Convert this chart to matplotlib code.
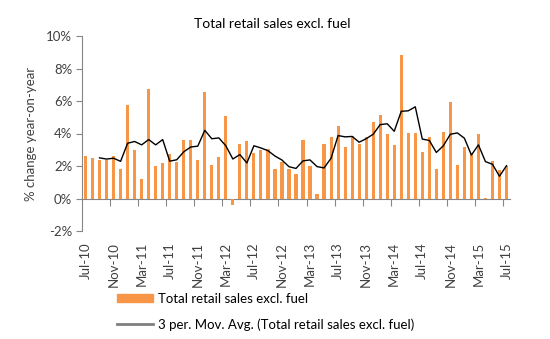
import matplotlib
matplotlib.use("Agg")
import matplotlib.pyplot as plt
from matplotlib.patches import Patch
from matplotlib.lines import Line2D
import numpy as np
import pandas as pd

plt.rcParams['font.family'] = ['Lato', 'DejaVu Sans']

title = "Total retail sales excl. fuel"
ylabel = "% change year-on-year"
bar_label = "Total retail sales excl. fuel"
ma_label = "3 per. Mov. Avg. (Total retail sales excl. fuel)"

# monthly values Jul-10 .. Jul-15 (% yoy)
values = [2.62, 2.48, 2.40, 2.40, 2.64, 1.82, 5.74, 2.97, 1.19, 6.72, 1.99, 2.17,
          2.73, 2.25, 3.63, 3.63, 2.40, 6.56, 2.07, 2.56, 5.10, -0.37, 3.38, 3.55,
          2.81, 2.97, 3.05, 1.82, 2.23, 1.82, 1.50, 3.63, 1.99, 0.27, 3.38, 3.79,
          4.45, 3.14, 3.87, 3.38, 3.79, 4.69, 5.16, 3.95, 3.30, 8.85, 4.04, 4.04,
          2.89, 3.79, 1.82, 4.12, 5.92, 2.07, 3.14, 2.81, 3.95, 0.05, 2.32, 1.74,
          1.99]
tick_labels = ["Jul-10", "Nov-10", "Mar-11", "Jul-11", "Nov-11", "Mar-12", "Jul-12",
               "Nov-12", "Mar-13", "Jul-13", "Nov-13", "Mar-14", "Jul-14", "Nov-14",
               "Mar-15", "Jul-15"]
yticks = [-2, 0, 2, 4, 6, 8, 10]

bar_color = "#F79646"
axis_color = "#868686"
text_color = "#404040"

n = len(values)
x = np.arange(n)
ma = pd.Series(values).rolling(3).mean()

fig = plt.figure(figsize=(5.5, 3.39), dpi=100)
ax = fig.add_axes([82/550, 1-231/339, 428/550, 195/339])

ax.bar(x, values, width=0.45, color=bar_color, zorder=2)
ax.plot(x, ma, color="black", lw=1.0, zorder=3)

ax.set_xlim(-0.5, n - 0.5)
ax.set_ylim(-2, 10)
ax.set_yticks(yticks)
ax.set_yticklabels([f"{v}%" for v in yticks], fontsize=9.5, color=text_color)
ax.tick_params(axis='y', length=4, color=axis_color, pad=3)

for s in ['top', 'right', 'bottom']:
    ax.spines[s].set_visible(False)
ax.spines['left'].set_color(axis_color)

ax.set_xticks(x[::4])
ax.set_xticklabels(tick_labels, rotation=90, fontsize=9.5, color=text_color, va='top')
ax.tick_params(axis='x', length=0, pad=8)

sec = ax.secondary_xaxis(2/12)
sec.spines['bottom'].set_color(axis_color)
sec.set_xticks(np.arange(3.5, n - 1, 4))
sec.set_xticklabels([])
sec.tick_params(axis='x', length=5, color=axis_color)

ax.set_ylabel(ylabel, fontsize=9.5, color=text_color, labelpad=7)
fig.text(272/550, 1-24/339, title, ha='center', va='center', fontsize=10, color='black')

handles = [Patch(color=bar_color), Line2D([0], [0], color="#808080", lw=2)]
fig.legend(handles, [bar_label, ma_label], loc='upper left',
           bbox_to_anchor=(117/550, 1-293/339), frameon=False, fontsize=9.5,
           handlelength=2.75, handleheight=0.55, handletextpad=0.38, labelspacing=1.0,
           labelcolor='black', borderaxespad=0, borderpad=0)

fig.savefig("out.png", dpi=100)
